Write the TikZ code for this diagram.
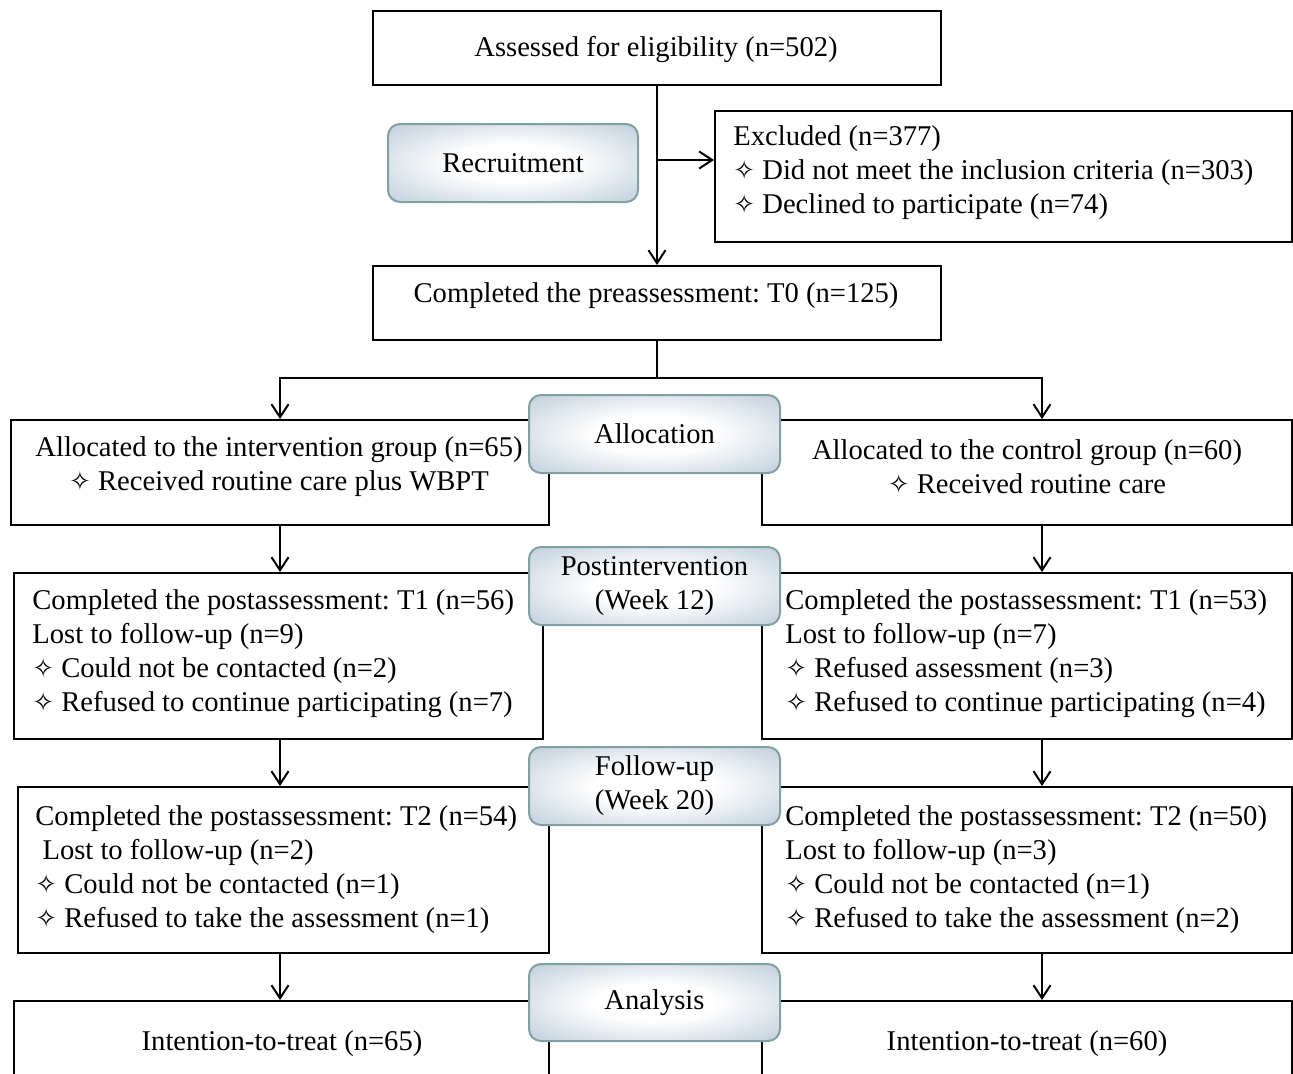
\documentclass[tikz,border=0pt]{standalone}
\usepackage{fontspec}
\setmainfont{Liberation Serif}
\newfontfamily\symfont{DejaVu Sans}
\usetikzlibrary{arrows.meta}
\definecolor{stagefill}{RGB}{180,197,212}
\definecolor{stageedge}{RGB}{128,160,162}
\pgfdeclareradialshading{stageshade}{\pgfpoint{0bp}{0bp}}{color(0bp)=(white); color(12bp)=(white); color(40bp)=(stagefill); color(50bp)=(stagefill)}
\newcommand{\figfs}{\fontsize{14.3}{17}\selectfont\frenchspacing}
\newcommand{\wstar}{{\symfont\fontsize{13}{13}\selectfont ✧}\ }
\begin{document}
\begin{tikzpicture}[x=0.5pt,y=-0.5pt,
 bx/.style={draw, line width=1pt, anchor=north west, inner sep=0pt},
 stage/.style={draw=stageedge, line width=1pt, rounded corners=6pt, shading=stageshade, anchor=north west, minimum width=125.5pt, minimum height=39pt, inner sep=0pt, font=\figfs, align=center},
 txt/.style={inner sep=0pt, font=\figfs, align=left, anchor=west},
 ctxt/.style={inner sep=0pt, font=\figfs, align=center},
 arr/.style={line width=1pt, -{Straight Barb[length=6.5pt,width=8.5pt]}},
 ln/.style={line width=1pt}]
\useasboundingbox (0,0) rectangle (1293,1073);
\clip (0,0) rectangle (1293,1073);
\fill[white] (0,0) rectangle (1293,1073);

% top
\node[bx, minimum width=284pt, minimum height=37pt] (elig) at (372,10) {};
\node[ctxt] (eligT) at (656,50) {Assessed for eligibility (n=502)};
\node[bx, minimum width=288.5pt, minimum height=65.5pt] (excl) at (714,110) {};
\node[txt] (exclT) at (733,173) {Excluded (n=377)\\\wstar Did not meet the inclusion criteria (n=303)\\\wstar Declined to participate (n=74)};
\node[bx, minimum width=284pt, minimum height=37pt] (t0) at (372,265) {};
\node[ctxt] (t0T) at (656,296) {Completed the preassessment: T0 (n=125)};

% allocation
\node[bx, minimum width=269pt, minimum height=52.5pt] (aL) at (10,419) {};
\node[ctxt] (aLT) at (279,467) {Allocated to the intervention group (n=65)\\\wstar Received routine care plus WBPT};
\node[bx, minimum width=265pt, minimum height=52.5pt] (aR) at (761,419) {};
\node[ctxt] (aRT) at (1027,467) {Allocated to the control group (n=60)\\\wstar Received routine care};

% T1
\node[bx, minimum width=264.5pt, minimum height=83pt] (t1L) at (13,572) {};
\node[txt] (t1LT) at (32,654) {Completed the postassessment: T1 (n=56)\\Lost to follow-up (n=9)\\\wstar Could not be contacted (n=2)\\\wstar Refused to continue participating (n=7)};
\node[bx, minimum width=265pt, minimum height=83pt] (t1R) at (761,572) {};
\node[txt] (t1RT) at (785,654) {Completed the postassessment: T1 (n=53)\\Lost to follow-up (n=7)\\\wstar Refused assessment (n=3)\\\wstar Refused to continue participating (n=4)};

% T2
\node[bx, minimum width=265.5pt, minimum height=83pt] (t2L) at (17,786) {};
\node[txt] (t2LT) at (35,870) {Completed the postassessment: T2 (n=54)\\\ Lost to follow-up (n=2)\\\wstar Could not be contacted (n=1)\\\wstar Refused to take the assessment (n=1)};
\node[bx, minimum width=265pt, minimum height=83pt] (t2R) at (761,786) {};
\node[txt] (t2RT) at (785,870) {Completed the postassessment: T2 (n=50)\\Lost to follow-up (n=3)\\\wstar Could not be contacted (n=1)\\\wstar Refused to take the assessment (n=2)};

% ITT
\node[bx, minimum width=267.5pt, minimum height=60pt] (iL) at (13,1000) {};
\node[ctxt] (iLT) at (282,1044) {Intention-to-treat (n=65)};
\node[bx, minimum width=265pt, minimum height=60pt] (iR) at (761,1000) {};
\node[ctxt] (iRT) at (1027,1044) {Intention-to-treat (n=60)};

% connectors
\coordinate (colL) at (280,0);
\coordinate (colR) at (1042,0);
\coordinate (branch) at (elig.south |- 0,160);
\coordinate (split) at (t0.south |- 0,378);
\draw[arr] (elig.south) -- (t0.north);
\draw[arr] (branch) -- (branch -| excl.west);
\draw[ln] (t0.south) -- (split);
\draw[arr] (split) -| (aL.north -| colL);
\draw[arr] (split) -| (aR.north -| colR);
\draw[arr] (aL.south -| colL) -- (t1L.north -| colL);
\draw[arr] (aR.south -| colR) -- (t1R.north -| colR);
\draw[arr] (t1L.south -| colL) -- (t2L.north -| colL);
\draw[arr] (t1R.south -| colR) -- (t2R.north -| colR);
\draw[arr] (t2L.south -| colL) -- (iL.north -| colL);
\draw[arr] (t2R.south -| colR) -- (iR.north -| colR);

% stage labels
\node[stage, minimum width=125pt] (recr) at (387,123) {Recruitment};
\node[stage] (alloc) at (528,394) {Allocation};
\node[stage] (post) at (528,546) {Postintervention\\(Week 12)};
\node[stage] (foll) at (528,746) {Follow-up\\(Week 20)};
\node[stage, minimum height=38.5pt] (anal) at (528,963) {Analysis};
\end{tikzpicture}
\end{document}
